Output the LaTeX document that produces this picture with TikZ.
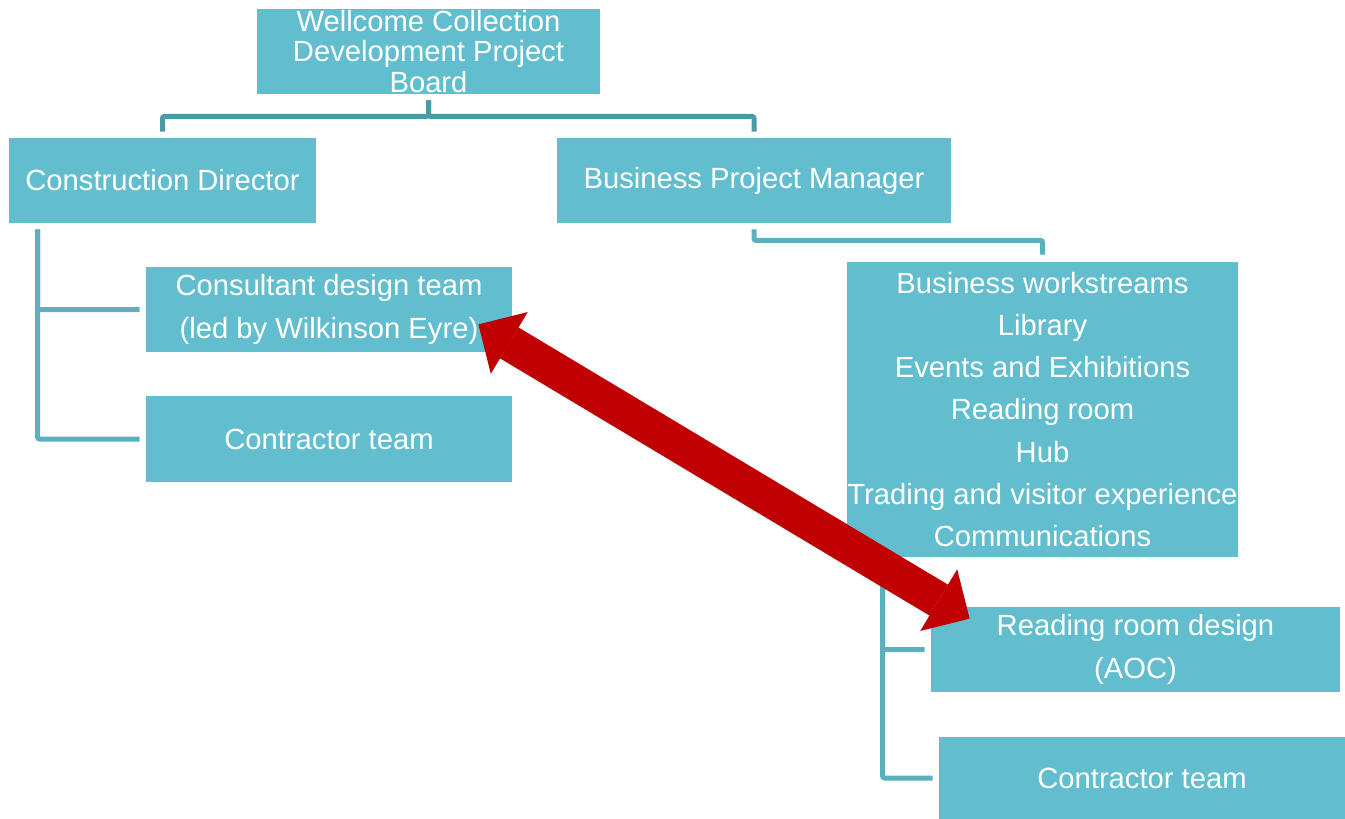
\documentclass[tikz,border=0pt]{standalone}
\usepackage{fontspec}
\setmainfont{Liberation Sans}
\usetikzlibrary{arrows.meta, calc}
\definecolor{boxfill}{HTML}{62BECE}
\definecolor{trunkcol}{HTML}{4A99A5}
\definecolor{branchcol}{HTML}{5AB0BE}
\definecolor{linkred}{HTML}{C00000}

\tikzset{
  box/.style={fill=boxfill, text=white, inner sep=0pt, align=center,
    font=\fontsize{14.6}{21.1}\selectfont},
  trunk/.style={draw=trunkcol, line width=2.5pt, rounded corners=1pt},
  branch/.style={draw=branchcol, line width=2.5pt, rounded corners=1pt},
  link/.style={draw=linkred, line width=18pt,
    {Triangle[length=18pt,width=36pt,line width=0pt]}-{Triangle[length=18pt,width=36pt,line width=0pt]}}
}

\begin{document}
\begin{tikzpicture}[x=0.5pt, y=-0.5pt]
\useasboundingbox (0,0) rectangle (1345,819);

% boxes (sizes in pt, 1px = 0.5pt)
\node[box, minimum width=171.5pt, minimum height=42.5pt] (board) at (428.5,51.5) {};
\node[text=white, inner sep=0pt, align=center, font=\fontsize{14.6}{15.25}\selectfont]
  (boardtxt) at (board.center) {Wellcome Collection\\Development Project\\Board};
\node[box, minimum width=153.5pt, minimum height=42.5pt] (cd) at (162.5,180.5) {Construction Director};
\node[box, minimum width=197pt, minimum height=42.5pt] (bpm) at (754,180.5) {Business Project Manager};
\node[box, minimum width=183pt, minimum height=42.5pt] (design) at (329,309.5)
  {Consultant design team\\(led by Wilkinson Eyre)};
\node[box, minimum width=183pt, minimum height=43pt] (contr) at (329,439) {Contractor team};
\node[box, minimum width=195.5pt, minimum height=147.5pt] (work) at (1042.5,409.5)
  {Business workstreams\\Library\\Events and Exhibitions\\Reading room\\Hub\\Trading and visitor experience\\Communications};
\node[box, minimum width=204.5pt, minimum height=42.5pt] (rrd) at (1135.5,649.5) {Reading room design\\(AOC)};
\node[box, minimum width=203pt, minimum height=41pt] (contrb) at (1142,778) {Contractor team};

% top level
\draw[trunk] ($(board.south)+(0,6)$) -- ++(0,16) -| ($(cd.north)+(0,-6)$);
\draw[trunk] ($(board.south)+(0,6)$) -- ++(0,16) -| ($(bpm.north)+(0,-6)$);

% construction side
\draw[branch] ($(cd.south west)+(29,6)$) |- ($(design.west)+(-6,0)$);
\draw[branch] ($(cd.south west)+(29,6)$) |- ($(contr.west)+(-6,0)$);

% business side
\draw[branch] ($(bpm.south)+(0,6)$) -- ++(0,11) -| ($(work.north)+(0,-7)$);
\draw[branch] ($(work.south west)+(36,6)$) |- ($(rrd.west)+(-6,0)$);
\draw[branch] ($(work.south west)+(36,6)$) |- ($(contrb.west)+(-6,0)$);

% red link
\coordinate (lt) at ($(design.south east)+(-34,-28)$);
\coordinate (rt) at ($(rrd.north west)+(39,12)$);
\draw[link] (lt) -- (rt);
\end{tikzpicture}
\end{document}
